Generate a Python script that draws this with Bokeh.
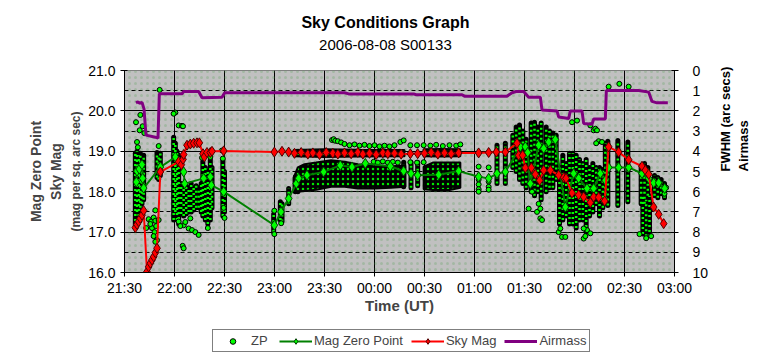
import math
from bokeh.plotting import figure
from bokeh.layouts import column
from bokeh.models import (Range1d, LinearAxis, FixedTicker, Title, Legend, LegendItem,
                          BoxAnnotation, ColumnDataSource, Label)
from bokeh.embed import file_html
from bokeh.resources import INLINE

FONT = "Liberation Sans"

# ---------------- data (time = minutes after 21:30 UT) ----------------
chart_title = "Sky Conditions Graph"
chart_subtitle = "2006-08-08 S00133"
tick_minutes = [0, 30, 60, 90, 120, 150, 180, 210, 240, 270, 300, 330]
tick_labels = ["21:30", "22:00", "22:30", "23:00", "23:30", "00:00", "00:30",
               "01:00", "01:30", "02:00", "02:30", "03:00"]
mag_ticks = [16, 17, 18, 19, 20, 21]
mag_labels = ["16.0", "17.0", "18.0", "19.0", "20.0", "21.0"]
right_ticks = [0, 1, 2, 3, 4, 5, 6, 7, 8, 9, 10]

# Airmass (right axis)
air_t = [6.9, 8.0, 9.0, 10.5, 11.7, 12.9, 18.5, 20.1, 20.9, 34.5, 35.5, 44.5, 46.5, 58.5,
         60.1, 132, 134.5, 173.5, 175, 202.5, 204, 229.5, 232.5, 235, 239.5, 242.5, 249.5,
         250.5, 259.5, 260.5, 266.5, 267.5, 274.5, 275.5, 280.5, 281.5, 288.5, 289.1, 308.5,
         314.5, 316.5, 319.5, 326]
air_v = [1.6, 1.55, 1.62, 1.58, 1.9, 3.2, 3.3, 3.35, 1.15, 1.15, 1.04, 1.04, 1.35, 1.33,
         1.1, 1.1, 1.16, 1.16, 1.2, 1.2, 1.27, 1.27, 1.1, 1.04, 1.04, 1.32, 1.32,
         1.95, 2.0, 2.3, 2.38, 2.0, 2.0, 2.62, 2.66, 2.4, 2.4, 0.99, 0.99,
         1.07, 1.53, 1.6, 1.6]

# Sky Mag
sky_t = [6.5, 7.5, 8.5, 9.5, 10.5, 11.5, 13.5, 14.5, 15.5, 16.5, 17.5, 18.5, 19.5, 21.5,
         32.5, 34.1, 35.1, 35.5, 37.5, 39.5, 41.5, 43.5, 44.9, 47.1, 47.9, 49.5, 51.5, 52.5,
         59.5, 89.9, 94.5, 98.5, 102, 106, 110, 113, 117, 121, 125, 128, 132, 136, 140, 143,
         147, 151, 155, 158, 162, 166, 171.5, 175.9, 180, 184, 188, 192, 196, 200.5, 212.5,
         218.5, 223.1, 228.5, 235.5, 236.5, 238.9, 240.5, 244.1, 246.5, 249.1, 251.5, 255.5,
         260.5, 263.5, 264.9, 268.5, 272.5, 275.5, 279.5, 281.5, 284.5, 288.1, 290.5, 296.5,
         302.5, 310.5, 312.5, 314.5, 317.5, 320.5, 323.5]
sky_m = [17.11, 17.19, 17.26, 17.34, 17.42, 17.53, 16.02, 16.14, 16.23, 16.31, 16.39, 16.49,
         16.6, 18.49, 18.74, 18.67, 18.8, 18.92, 19.15, 19.18, 19.2, 19.21, 19.21, 18.94,
         18.86, 18.97, 18.97, 19.0, 19.01, 18.98, 19.0, 18.98, 18.95, 18.97, 18.93, 18.96,
         18.92, 18.97, 18.95, 18.93, 18.96, 18.94, 18.97, 18.93, 18.95, 18.92, 18.96, 18.94,
         18.95, 18.93, 18.94, 18.94, 18.95, 18.97, 18.93, 18.96, 18.94, 18.96, 18.96, 18.97,
         18.98, 18.98, 19.2, 18.9, 18.9, 18.59, 18.59, 18.43, 18.28, 18.53, 18.53, 18.41,
         18.35, 18.33, 17.97, 17.92, 17.87, 17.73, 17.87, 17.86, 17.77, 19.11, 18.98, 18.79,
         18.63, 18.53, 18.43, 17.62, 17.44, 17.21]

# Mag Zero Point
mzp_t = [7.1, 7.5, 8.9, 10.5, 10.9, 11.5, 21.5, 30.5, 35.5, 36.1, 47.5, 51.5, 52.1, 59.5,
         89.9, 93.9, 98.5, 103.1, 104.5, 109.5, 119.5, 129.5, 136.5, 144.5, 159.5, 167.5,
         171.9, 175.9, 188.5, 200.5, 212.5, 218.5, 223.5, 228.5, 237.5, 240.5, 241.9, 243.5,
         248.5, 251.5, 254.5, 258.5, 264.5, 269.5, 272.5, 277.5, 281.5, 285.5, 288.5, 290.5,
         296.5, 302.5, 310.5, 314.5, 317.5, 320.5, 324.1]
mzp_m = [18.24, 18.51, 18.56, 18.67, 18.33, 18.09, 18.61, 18.86, 18.49, 18.2, 18.33, 18.37,
         18.16, 18.0, 17.17, 17.5, 17.83, 18.2, 18.33, 18.41, 18.49, 18.65, 18.61, 18.7,
         18.63, 18.51, 18.45, 18.41, 18.42, 18.51, 18.37, 18.33, 18.45, 18.49, 19.11, 19.11,
         18.97, 18.2, 19.15, 19.07, 19.23, 19.29, 17.62, 18.45, 18.33, 18.08, 18.08, 18.45,
         18.28, 18.6, 18.6, 18.6, 18.45, 18.33, 18.22, 18.22, 18.08]

# ZP: dense vertical stacks of points (time, lowest, highest)
zpcol_t = [6.5, 7.5, 8.5, 9.5, 10.5, 11.5, 19.5, 20.5, 21.5, 29.5, 30.5, 31.5, 32.5,
           34, 35.5, 37, 38.5, 40, 41.5, 43, 44.5, 46, 47, 48.5, 50, 51.5, 52.5, 59, 60,
           89.5, 93.5, 94.5, 98.5, 102.5, 104, 167.5, 171.9, 175.9, 223.5, 228.5,
           233, 235, 237, 239, 241, 244, 246, 248, 250, 253, 255, 257, 259, 261, 263, 265,
           267, 269, 271, 273, 275, 277, 279, 281, 283, 285, 287, 288.5, 290, 296, 302,
           310, 312, 314, 311, 313, 315, 318, 320, 322, 324]
zpcol_lo = [17.15, 17.5, 17.4, 17.6, 17.7, 17.8, 18.35, 18.3, 18.4, 17.3, 17.5, 17.3, 17.2,
            17.45, 17.4, 17.45, 17.5, 17.5, 17.55, 17.6, 17.6, 17.5, 17.4, 17.3, 17.2, 17.3,
            17.6, 17.4, 17.5, 17.0, 17.3, 17.26, 17.7, 18.0, 18.0, 18.12, 18.1, 18.15, 18.2,
            18.2, 18.6, 18.5, 18.3, 18.2, 18.1, 18.0, 17.9, 18.0, 17.8, 18.0, 18.1, 18.1,
            18.3, 17.2, 17.3, 17.4, 17.2, 17.2, 17.1, 17.3, 17.3, 17.0, 17.4, 17.5, 17.7,
            17.4, 17.6, 17.7, 17.66, 17.66, 17.75, 17.7, 17.7, 17.9, 16.95, 16.9, 17.0,
            17.9, 17.85, 17.95, 17.85]
zpcol_hi = [18.95, 19.0, 18.9, 18.95, 18.8, 18.9, 18.97, 18.9, 18.95, 19.35, 19.2, 19.0, 18.9,
            18.2, 18.15, 18.15, 18.1, 18.2, 18.1, 18.15, 18.1, 18.2, 18.75, 18.6, 18.5, 18.8,
            18.6, 18.8, 18.5, 17.45, 17.75, 17.7, 18.08, 18.37, 18.4, 18.73, 18.73, 18.73,
            19.15, 19.2, 19.4, 19.6, 19.65, 19.5, 19.3, 19.7, 19.72, 19.6, 19.7, 19.6, 19.5,
            19.45, 19.4, 18.6, 18.9, 18.7, 18.95, 18.95, 18.9, 18.8, 18.7, 18.8, 18.6, 18.7,
            18.6, 18.6, 18.55, 19.2, 19.25, 19.27, 19.23, 18.65, 18.7, 18.6, 17.9, 17.8,
            17.9, 18.4, 18.35, 18.3, 18.2]

# ZP: dense masses of points (envelopes: time, lowest, highest)
blob1_t = [101.5, 104, 108, 115, 124, 132, 140, 150, 160, 168.5]
blob1_lo = [18.0, 18.0, 18.02, 18.05, 18.12, 18.12, 18.08, 18.08, 18.1, 18.12]
blob1_hi = [18.35, 18.6, 18.68, 18.72, 18.78, 18.74, 18.68, 18.63, 18.63, 18.65]
band1_t = [101.5, 120, 140, 168]
band1_lo = [18.88, 18.86, 18.87, 18.88]
band1_hi = [19.03, 19.05, 19.04, 19.03]
blob2_t = [179.5, 185, 195, 201.5]
blob2_lo = [18.06, 18.04, 18.04, 18.1]
blob2_hi = [18.62, 18.72, 18.72, 18.72]
band2_t = [179.5, 190, 201.5]
band2_lo = [18.88, 18.87, 18.88]
band2_hi = [19.05, 19.06, 19.05]

# ZP: individual points
zp_t = [6.9, 9.5, 10.9, 11.9, 9.1, 7.5, 8.0, 20.5, 21.1, 30.5, 32.5, 34.5, 35.1, 34.9, 35.5,
        29.5, 14.5, 16, 17.5, 18.5, 16.5, 19, 18, 17.5, 19.5, 18.5, 20.5, 15.5, 18.5, 13,
        32.5, 35.5, 38.5, 40.5, 42.5, 44.5, 39.5, 36.5, 33.5, 46.5, 51.5, 50, 58.5, 59, 60,
        59.5, 89.9, 89.9, 94, 124.5, 125.5, 126.5, 128, 130, 132, 135, 138, 141, 144, 147,
        150, 153, 156, 159, 162, 165.5, 167.5, 171.5, 175.5, 179.5, 183.5, 187, 191, 195,
        199, 201.5, 149.5, 152, 155, 158, 161, 164, 171.5, 175.5, 179.5, 212.5, 212.5,
        212.5, 212.5, 212.5, 218.5, 218.5, 218.5, 218.5, 242.5, 244.5, 247.5, 249.5, 249.5,
        250.5, 248.5, 260.5, 262.5, 264.5, 261.5, 275.5, 277.5, 275.5, 279.5, 276.5, 268.5,
        271.5, 279.5, 281.5, 282.5, 283.5, 284.5, 286.5, 283, 290.5, 296.9, 302.5, 309, 316,
        313, 324, 325]
zp_m = [19.72, 19.9, 19.62, 19.45, 19.52, 19.23, 19.1, 19.13, 20.52, 19.96, 19.64, 19.63,
        19.62, 16.66, 16.6, 19.93, 17.32, 17.26, 17.36, 17.28, 17.1, 17.15, 17.0, 16.9, 16.8,
        16.76, 17.3, 17.2, 17.54, 17.1, 17.26, 17.17, 17.09, 17.05, 17.0, 16.93, 17.34, 17.25,
        17.15, 18.84, 18.86, 17.1, 19.02, 18.82, 17.35, 17.6, 17.53, 16.95, 17.22, 19.28,
        19.3, 19.26, 19.25, 19.22, 19.18, 19.15, 19.17, 19.14, 19.16, 19.13, 19.15, 19.12,
        19.14, 19.12, 19.15, 19.23, 19.27, 19.15, 19.15, 19.15, 19.14, 19.16, 19.13, 19.15,
        19.14, 19.17, 18.74, 18.72, 18.75, 18.72, 18.74, 18.72, 18.73, 18.72, 18.73, 18.62,
        18.3, 18.18, 18.06, 18.0, 18.6, 18.25, 18.12, 18.05, 17.58, 18.0, 17.5, 17.34, 17.58,
        17.3, 17.7, 17.0, 16.88, 16.88, 17.09, 16.84, 17.05, 17.09, 16.97, 16.9, 19.72,
        19.76, 19.64, 19.52, 19.56, 19.52, 19.25, 19.23, 19.2, 20.6, 20.67, 20.6, 16.95,
        16.9, 16.85, 17.95, 18.1]

# ---------------- header strip with the two title lines ----------------
header = figure(width=749, height=56, output_backend="svg", toolbar_location=None,
                x_range=Range1d(0, 1), y_range=Range1d(0, 1), title=None,
                min_border=0, outline_line_color=None)
header.axis.visible = False
header.grid.visible = False
header.add_layout(Label(x=0.485, y=34, y_units="screen", text=chart_title,
                        text_align="center", text_baseline="middle", text_font=FONT,
                        text_font_size="16px", text_font_style="bold", text_color="black"))
header.add_layout(Label(x=0.485, y=12, y_units="screen", text=chart_subtitle,
                        text_align="center", text_baseline="middle", text_font=FONT,
                        text_font_size="15px", text_font_style="normal", text_color="black"))

# ---------------- main figure ----------------
p = figure(frame_width=550, frame_height=202, output_backend="svg", toolbar_location=None,
           x_range=Range1d(0, 330), y_range=Range1d(16, 21), title=None,
           min_border_left=124, min_border_right=75, min_border_top=14, min_border_bottom=54,
           background_fill_color="#c0c0c0", border_fill_color="white",
           outline_line_color="#808080")
p.extra_y_ranges = {"air": Range1d(start=10, end=0)}

# speckled plot-area fill
p.add_layout(BoxAnnotation(left=0, right=330, bottom=16, top=21, fill_alpha=0,
                           line_alpha=0, hatch_pattern="dot", hatch_color="#4c9a4c",
                           hatch_alpha=0.25, hatch_scale=6, hatch_weight=1,
                           level="underlay"))

# axes
xa = p.xaxis[0]
xa.ticker = FixedTicker(ticks=tick_minutes)
xa.major_label_overrides = {t: l for t, l in zip(tick_minutes, tick_labels)}
xa.axis_label = "Time (UT)"
ya = p.yaxis[0]
ya.ticker = FixedTicker(ticks=mag_ticks, minor_ticks=[m + 0.5 for m in mag_ticks[:-1]])
ya.major_label_overrides = {t: l for t, l in zip(mag_ticks, mag_labels)}
ra = LinearAxis(y_range_name="air", ticker=FixedTicker(ticks=right_ticks))
p.add_layout(ra, "right")
for ax in (xa, ya, ra):
    ax.major_label_text_font = FONT
    ax.major_label_text_font_size = "14px"
    ax.major_label_text_color = "black"
    ax.axis_line_color = "black"
    ax.major_tick_line_color = "black"
    ax.major_tick_in = 3
    ax.major_tick_out = 4
    ax.minor_tick_line_color = None
    ax.major_label_standoff = 5
ra.major_label_standoff = 14
xa.major_label_standoff = 3
xa.axis_label_text_font = FONT
xa.axis_label_text_font_size = "15px"
xa.axis_label_text_font_style = "bold"
xa.axis_label_standoff = -2

# grid
p.xgrid.grid_line_color = "black"
p.xgrid.grid_line_alpha = 1
p.ygrid.grid_line_color = "black"
p.ygrid.grid_line_alpha = 1
p.ygrid.minor_grid_line_color = "black"
p.ygrid.minor_grid_line_dash = "4 3"

# left side titles
for txt, size, so in [("(mag per sq. arc sec)", "12px", 5), ("Sky Mag", "14px", 2),
                      ("Mag Zero Point", "14px", 2)]:
    p.add_layout(Title(text=txt, align="center", text_font=FONT, text_font_size=size,
                       text_font_style="bold", standoff=so), "left")
# right side titles (read bottom-to-top)
for txt, so in [("FWHM (arc secs)", 14), ("Airmass", 0)]:
    t_ax = LinearAxis(y_range_name="air", ticker=FixedTicker(ticks=[5]),
                      major_label_overrides={5: txt}, major_label_orientation=math.pi / 2,
                      axis_line_color=None, major_tick_line_color=None,
                      minor_tick_line_color=None, major_tick_out=0, major_tick_in=0,
                      major_label_standoff=so, major_label_text_font=FONT,
                      major_label_text_font_size="13px", major_label_text_font_style="bold",
                      major_label_text_color="black")
    p.add_layout(t_ax, "right")

# ---------------- ZP ----------------
col_src = ColumnDataSource(dict(t=zpcol_t, lo=zpcol_lo, hi=zpcol_hi))
p.segment(x0="t", y0="lo", x1="t", y1="hi", source=col_src, line_color="black",
          line_width=5, line_cap="round")
p.segment(x0="t", y0="lo", x1="t", y1="hi", source=col_src, line_color="#00ff00",
          line_width=2.5, line_dash="2 3")
blob_xs, blob_ys = [], []
for bt, blo, bhi in [(blob1_t, blob1_lo, blob1_hi), (band1_t, band1_lo, band1_hi),
                     (blob2_t, blob2_lo, blob2_hi), (band2_t, band2_lo, band2_hi)]:
    blob_xs.append(list(bt) + list(bt)[::-1])
    blob_ys.append(list(blo) + list(bhi)[::-1])
p.patches(blob_xs, blob_ys, fill_color="black", line_color="black", line_width=2,
          hatch_pattern="dot", hatch_color="#00ff00", hatch_scale=5, hatch_weight=4,
          hatch_alpha=0.9)
zp_style = dict(marker="circle", size=5, fill_color="#00ff00", line_color="black", line_width=1)
p.scatter(zp_t, zp_m, **zp_style)

# ---------------- Mag Zero Point ----------------
mzp_line_style = dict(line_color="#008000", line_width=2)
mzp_pt_style = dict(marker="diamond", size=10, fill_color="#00ff00", line_color="#004000",
                    line_width=1)
p.line(mzp_t, mzp_m, **mzp_line_style)
p.scatter(mzp_t, mzp_m, **mzp_pt_style)

# ---------------- Sky Mag ----------------
sky_line_style = dict(line_color="#ff0000", line_width=2)
sky_pt_style = dict(marker="diamond", size=10, fill_color="#ff0000", line_color="#500000",
                    line_width=1)
p.line(sky_t, sky_m, **sky_line_style)
p.scatter(sky_t, sky_m, **sky_pt_style)

# ---------------- Airmass ----------------
air_line_style = dict(line_color="#800080", line_width=3)
p.line(air_t, air_v, y_range_name="air", **air_line_style)

# ---------------- legend strip (same series, drawn outside its visible range) ----------------
leg_fig = figure(width=749, height=28, output_backend="svg", toolbar_location=None,
                 x_range=Range1d(-2, -1), y_range=Range1d(-2, -1), title=None,
                 min_border=0, outline_line_color=None)
leg_fig.axis.visible = False
leg_fig.grid.visible = False
g_zp = leg_fig.scatter(zp_t, zp_m, marker="circle", size=3, fill_color="#00ff00",
                       line_color="black", line_width=1)
g_ml = leg_fig.line(mzp_t, mzp_m, **mzp_line_style)
g_mp = leg_fig.scatter(mzp_t, mzp_m, **mzp_pt_style)
g_sl = leg_fig.line(sky_t, sky_m, **sky_line_style)
g_sp = leg_fig.scatter(sky_t, sky_m, **sky_pt_style)
g_al = leg_fig.line(air_t, air_v, **air_line_style)
legend = Legend(items=[LegendItem(label="ZP", renderers=[g_zp]),
                       LegendItem(label="Mag Zero Point", renderers=[g_ml, g_mp]),
                       LegendItem(label="Sky Mag", renderers=[g_sl, g_sp]),
                       LegendItem(label="Airmass", renderers=[g_al])],
                orientation="horizontal", location=(88, 2),
                label_text_font=FONT, label_text_font_size="13px",
                glyph_width=33, glyph_height=14, label_standoff=2, spacing=8,
                padding=3, margin=0, border_line_color="black", border_line_width=1,
                background_fill_color="white", background_fill_alpha=1)
leg_fig.add_layout(legend, "center")

layout = column(header, p, leg_fig, spacing=0)
open("out.html", "w").write(file_html(layout, INLINE))
